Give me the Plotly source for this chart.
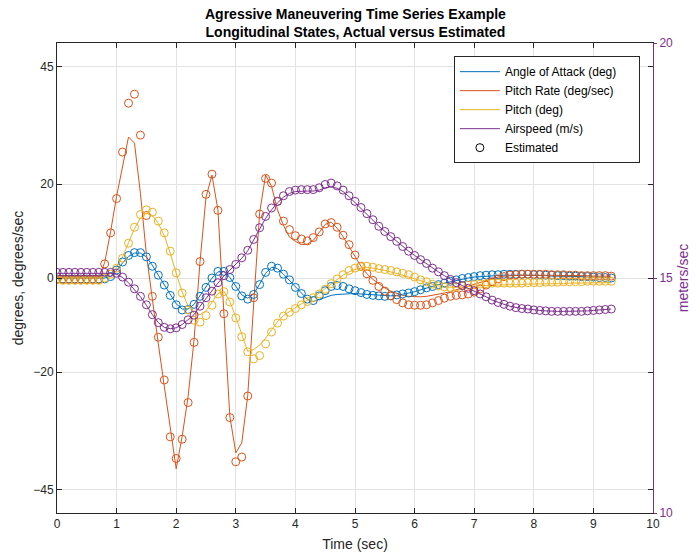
import numpy as np
import plotly.graph_objects as go

# time base (sec), 0.0 .. 9.3 every 0.1 s
t = [round(i * 0.1, 1) for i in range(94)]

alpha_act = [0, 0, 0, 0, 0, 0, 0, 0, 0,
             0.4, 1.6, 3.2, 4.6, 5.3, 5.3, 4.5, 2.7, 0.6, -1.5, -3.6, -5.5, -6.6, -6.6, -5.6, -3.8, -1.8,
             0.0, 1.3, 1.4, 0.1, -1.8, -3.6, -4.3, -3.4, -1.3, 1.0, 2.3, 2.0, 0.8, -0.5, -1.9, -3.3, -4.5,
             -5.0, -4.6, -4.1, -3.7, -3.5, -3.4, -3.3, -3.3, -3.4, -3.5, -3.6, -3.7, -3.8, -3.8, -3.7, -3.5,
             -3.2, -2.9, -2.5, -2.1, -1.8, -1.4, -1.1, -0.8, -0.5, -0.2, 0.0, 0.2, 0.3, 0.4, 0.5,
             0.5, 0.6, 0.6, 0.6, 0.6, 0.6,
             0.5, 0.5, 0.5, 0.4, 0.4, 0.4, 0.3, 0.3, 0.3, 0.2, 0.2, 0.2, 0.1, 0.1]
alpha_est = [-0.2, -0.2, -0.2, -0.2, -0.2, -0.2, -0.2, -0.2, -0.2,
             0.3, 1.7, 3.4, 4.8, 5.4, 5.4, 4.5, 2.5, 0.6, -1.5, -3.7, -5.7, -6.8, -6.7, -5.6, -3.9, -2.0,
             0.0, 1.4, 1.4, 0.1, -1.8, -3.8, -4.5, -3.5, -1.4, 1.2, 2.5, 2.1, 0.8, -0.4, -2.0, -3.3, -4.5,
             -4.8, -3.8, -2.7, -1.8, -1.6, -1.8, -2.3, -2.7, -3.1, -3.5, -3.7, -3.8, -3.9, -3.8, -3.6, -3.4,
             -3.2, -2.9, -2.5, -2.1, -1.8, -1.4, -1.1, -0.7, -0.4, -0.1, 0.1, 0.3, 0.5, 0.6, 0.7,
             0.7, 0.8, 0.8, 0.8, 0.8, 0.8,
             0.7, 0.7, 0.6, 0.6, 0.5, 0.5, 0.4, 0.4, 0.3, 0.3, 0.2, 0.1, 0.1, 0.0]

q_act = [0, 0, 0, 0, 0, 0, 0, 0,
         3.3, 9.9, 17.4, 24.1, 30.0, 28.7, 18.0, 5.0, -5.0, -14.0, -23.0, -32.0, -40.6, -33.7, -25.2,
         -13.1, 3.5, 17.2, 21.9, 14.5, -7.5, -29.4, -37.2, -35.1, -25.0, -4.5, 13.9, 21.9, 19.5, 14.5,
         11.2, 8.7, 7.8, 7.1, 7.2, 8.0, 9.6, 11.4, 11.9, 10.6, 8.8, 6.8, 4.6, 2.5, 0.9, -0.3, -1.3,
         -2.1, -2.8, -3.3, -3.7, -3.9, -4.0, -4.0, -3.9, -3.7, -3.5, -3.2, -2.9, -2.5, -2.1, -1.7,
         -1.3, -0.9, -0.5, -0.1, 0.2, 0.4, 0.5, 0.6, 0.6, 0.6,
         0.6, 0.6, 0.6, 0.6, 0.5, 0.5, 0.5, 0.5, 0.5, 0.5, 0.4, 0.4, 0.4, 0.4]
q_est = [-0.3, -0.3, -0.3, -0.3, -0.3, -0.3, -0.3, -0.3,
         3.0, 9.6, 16.9, 26.8, 37.2, 39.1, 30.4, 13.3, -3.9, -12.6, -21.7, -33.8, -38.4, -34.3, -26.5,
         -13.7, 3.5, 17.8, 22.1, 14.4, -7.6, -29.7, -39.1, -38.1, -25.1, -4.2, 13.6, 21.2, 20.2, 16.3,
         12.1, 10.3, 9.0, 8.3, 7.9, 8.6, 9.8, 11.5, 11.8, 10.8, 9.1, 7.1, 4.9, 2.5, 0.9, -0.5, -1.8,
         -2.8, -3.8, -4.6, -5.3, -5.7, -5.8, -5.8, -5.7, -5.3, -4.8, -4.3, -3.9, -3.7, -3.6, -3.4,
         -3.0, -2.3, -1.5, -0.8, -0.2, 0.3, 0.6, 0.7, 0.8, 0.8,
         0.8, 0.8, 0.8, 0.7, 0.7, 0.7, 0.6, 0.6, 0.5, 0.5, 0.5, 0.5, 0.5, 0.4]

theta_act = [0, 0, 0, 0, 0, 0, 0, 0,
             0.2, 1.0, 2.3, 4.5, 7.5, 10.5, 12.8, 13.8, 13.3, 11.6, 9.0, 5.3, 1.0, -3.0, -6.0, -7.5,
             -7.8, -7.0, -5.2, -3.3, -2.8, -5.0, -8.3, -12.0, -15.6, -15.2, -14.3, -12.8, -11.0, -9.3,
             -8.0, -7.1, -6.3, -5.5, -4.8, -4.0, -3.2, -2.2, -1.2, -0.3, 0.6, 1.3, 1.8, 2.1, 2.2, 2.1,
             1.9, 1.6, 1.3, 1.0, 0.6, 0.2, -0.2, -0.6, -1.0, -1.4, -1.7, -1.9, -2.0, -2.0, -1.9, -1.8,
             -1.7,
             -1.6, -1.6, -1.5, -1.5, -1.5, -1.4, -1.4, -1.4, -1.3, -1.3, -1.3, -1.2, -1.2, -1.2, -1.2,
             -1.1, -1.1, -1.1, -1.1, -1.0, -1.0, -1.0, -1.0]
theta_est = [-0.3, -0.5, -0.5, -0.5, -0.5, -0.5, -0.5, -0.5,
             0.0, 0.8, 2.1, 4.2, 7.4, 10.8, 13.5, 14.5, 14.0, 12.1, 9.6, 5.7, 1.1, -3.2, -6.8, -9.0,
             -9.4, -8.0, -5.8, -3.4, -2.9, -5.1, -8.5, -12.5, -15.7, -17.2, -16.5, -14.0, -11.5, -9.6,
             -8.1, -7.3, -6.5, -5.7, -5.0, -4.2, -3.4, -2.4, -1.2, -0.2, 0.7, 1.6, 2.1, 2.4, 2.5, 2.3,
             2.0, 1.8, 1.6, 1.3, 1.0, 0.7, 0.2, -0.4, -0.8, -1.3, -1.7, -1.9, -2.0, -1.9, -1.7, -1.5,
             -1.4, -1.3, -1.2, -1.1,
             -1.1, -1.1, -1.1, -1.1, -1.1, -1.0, -1.0, -1.0,
             -0.9, -0.9, -0.9, -0.8, -0.8, -0.8, -0.8, -0.7, -0.7, -0.7, -0.7, -0.7]

V_act = [15.10, 15.10, 15.10, 15.10, 15.10, 15.10, 15.10, 15.10, 15.10, 15.10,
         15.08, 15.01, 14.90, 14.76, 14.60, 14.42, 14.22, 14.05, 13.95, 13.92, 13.94, 14.01, 14.11,
         14.22, 14.40, 14.57, 14.72, 14.89, 15.04, 15.17, 15.29, 15.42, 15.58, 15.80, 16.04, 16.27,
         16.45, 16.60, 16.72, 16.80, 16.84, 16.85, 16.85, 16.85, 16.87, 16.92, 16.94, 16.91, 16.84,
         16.73, 16.61, 16.49, 16.36, 16.23, 16.10, 15.99, 15.88, 15.78, 15.67, 15.57, 15.48, 15.39,
         15.31, 15.21, 15.13, 15.05, 14.97, 14.90, 14.84, 14.78, 14.73, 14.66, 14.60, 14.53, 14.48,
         14.44, 14.40, 14.37, 14.35, 14.34, 14.32, 14.31, 14.30,
         14.29, 14.29, 14.29, 14.29, 14.29, 14.29, 14.30, 14.31, 14.32, 14.33, 14.34]
V_est = [15.12, 15.12, 15.12, 15.12, 15.12, 15.12, 15.12, 15.12, 15.12, 15.12,
         15.10, 15.02, 14.91, 14.77, 14.61, 14.43, 14.22, 14.05, 13.95, 13.92, 13.94, 14.01, 14.11,
         14.21, 14.40, 14.58, 14.72, 14.90, 15.05, 15.18, 15.29, 15.43, 15.59, 15.82, 16.07, 16.31,
         16.49, 16.63, 16.75, 16.84, 16.87, 16.88, 16.88, 16.88, 16.92, 16.99, 17.02, 16.96, 16.87,
         16.75, 16.63, 16.50, 16.37, 16.24, 16.10, 15.99, 15.88, 15.78, 15.67, 15.57, 15.48, 15.39,
         15.31, 15.21, 15.13, 15.05, 14.97, 14.90, 14.84, 14.78, 14.73, 14.66, 14.60, 14.53, 14.48,
         14.44, 14.40, 14.37, 14.35, 14.34, 14.32, 14.31, 14.30,
         14.29, 14.29, 14.29, 14.29, 14.29, 14.29, 14.30, 14.31, 14.32, 14.33, 14.34]

names = ["Angle of Attack (deg)", "Pitch Rate (deg/sec)", "Pitch (deg)", "Airspeed (m/s)"]
colors = ["#0072BD", "#D95319", "#EDB120", "#7E2F8E"]
actual = [alpha_act, q_act, theta_act, V_act]
estimated = [alpha_est, q_est, theta_est, V_est]
axes = ["y", "y", "y", "y2"]

left_ticks = [-45, -20, 0, 20, 45]
right_ticks = [10, 15, 20]
x_ticks = list(range(0, 11))

title_lines = ["Agressive Maneuvering Time Series Example",
               "Longitudinal States, Actual versus Estimated"]

FONT = "Liberation Sans, Arial, sans-serif"
AX = "#262626"
PURPLE = "#7E2F8E"
PAD = "\u00a0" * 5  # right padding inside the legend box

fig = go.Figure()
for nm, ya, c, ax in zip(names, actual, colors, axes):
    fig.add_trace(go.Scatter(x=t, y=ya, mode="lines", name=nm + PAD, yaxis=ax,
                             line=dict(color=c, width=1)))
for nm, ye, c, ax in zip(names, estimated, colors, axes):
    fig.add_trace(go.Scatter(x=t, y=ye, mode="markers", name=nm + " est", yaxis=ax,
                             showlegend=False,
                             marker=dict(symbol="circle-open", size=8, color=c,
                                         line=dict(width=1, color=c))))
fig.add_trace(go.Scatter(x=[None], y=[None], mode="markers", name="Estimated",
                         marker=dict(symbol="circle-open", size=8, color="black",
                                     line=dict(width=1, color="black"))))

fig.add_annotation(text="<b>" + title_lines[0] + "</b><br><b>" + title_lines[1] + "</b>",
                   x=0.5, xref="paper", y=1, yref="paper", xanchor="center", yanchor="bottom",
                   yshift=1, showarrow=False, align="center",
                   font=dict(family=FONT, size=14, color="black"))

fig.update_layout(
    width=696, height=556,
    margin=dict(l=57, r=43, t=43, b=43),
    paper_bgcolor="white", plot_bgcolor="white",
    font=dict(family=FONT, size=12, color=AX),
    showlegend=True,
    legend=dict(x=0.978, y=0.972, xanchor="right", yanchor="top",
                bgcolor="white", bordercolor=AX, borderwidth=1,
                font=dict(family=FONT, size=12, color="black"),
                tracegroupgap=0, itemwidth=40),
    xaxis=dict(range=[0, 10], tickvals=x_ticks, ticks="inside", ticklen=5,
               tickcolor=AX, showline=True, linecolor=AX, linewidth=1, mirror="ticks",
               showgrid=True, gridcolor="#e3e3e3", zeroline=False, automargin=False,
               tickfont=dict(size=12, color=AX),
               title=dict(text="Time (sec)", font=dict(size=14, color=AX), standoff=8)),
    yaxis=dict(range=[-50, 50], tickvals=left_ticks, ticks="inside", ticklen=5,
               tickcolor=AX, showline=True, linecolor=AX, linewidth=1, mirror="ticks",
               showgrid=True, gridcolor="#e3e3e3", zeroline=False, automargin=False,
               tickfont=dict(size=12, color=AX),
               title=dict(text="degrees, degrees/sec", font=dict(size=14, color=AX), standoff=6)),
    yaxis2=dict(range=[10, 20], tickvals=right_ticks, overlaying="y", side="right",
                ticks="outside", ticklen=3, tickcolor=PURPLE,
                showline=True, linecolor=PURPLE, linewidth=1,
                showgrid=False, zeroline=False, automargin=False,
                tickfont=dict(size=12, color=PURPLE),
                title=dict(text="meters/sec", font=dict(size=14, color=PURPLE), standoff=6)),
)

# remove the browser's default 8px page margin so the figure fills the window exactly
fig.write_html("out.html", config={"displayModeBar": False},
               post_script="document.body.style.margin='0px';")
